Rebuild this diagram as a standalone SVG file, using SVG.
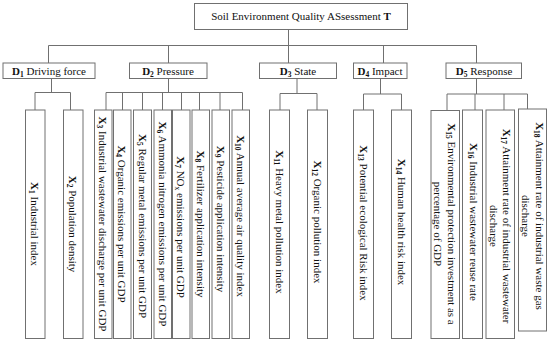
<svg xmlns="http://www.w3.org/2000/svg" width="550" height="344" viewBox="0 0 550 344">
<style>
  .box { fill: #ffffff; stroke: #707070; stroke-width: 1; }
  .conn { fill: none; stroke: #707070; stroke-width: 1; }
  text { font-family: "Liberation Serif", "Times New Roman", serif; font-size: 11px; fill: #111; }
  .b { font-weight: bold; }
  .sub { font-size: 7.5px; font-weight: bold; }
  .subn { font-size: 7.5px; }
</style>
<rect width="550" height="344" fill="#ffffff"/>
<g id="connectors" class="conn">
  <path d="M288.5 29.5 V45.5 M48.5 45.5 H476.5 M48.5 45.5 V63 M168.5 45.5 V63 M288.5 45.5 V63 M383.5 45.5 V63 M476.5 45.5 V63"/>
  <path d="M51.5 78.5 V92.5 M35 92.5 H70.5 M35 92.5 V110 M70.5 92.5 V110"/>
  <path d="M168.5 78.5 V92.5 M106 92.5 H242.5 M106 92.5 V110 M122.5 92.5 V110 M142.5 92.5 V110 M162.5 92.5 V110 M181.5 92.5 V110 M199.5 92.5 V110 M220 92.5 V110 M242.5 92.5 V110"/>
  <path d="M297 78.5 V93.5 M280 93.5 H317 M280 93.5 V110 M317 93.5 V110"/>
  <path d="M380.5 78.5 V94 M363.5 94 H401.5 M363.5 94 V110 M401.5 94 V110"/>
  <path d="M476.5 78.5 V94 M447 94 H527.5 M447 94 V110 M475 94 V110 M504 94 V110 M527.5 94 V109"/>
</g>
<g id="T">
  <rect class="box" x="194.5" y="3.5" width="213" height="26"/>
  <text x="301" y="20" text-anchor="middle">Soil Environment Quality ASsessment <tspan class="b">T</tspan></text>
</g>
<g id="D1">
  <rect class="box" x="3" y="63" width="92" height="15.5"/>
  <text x="49" y="74.5" text-anchor="middle"><tspan class="b">D</tspan><tspan class="sub" dy="2">1</tspan><tspan dy="-2"> Driving force</tspan></text>
</g>
<g id="D2">
  <rect class="box" x="129.5" y="63" width="77.5" height="15.5"/>
  <text x="168" y="74.5" text-anchor="middle"><tspan class="b">D</tspan><tspan class="sub" dy="2">2</tspan><tspan dy="-2"> Pressure</tspan></text>
</g>
<g id="D3">
  <rect class="box" x="259.5" y="63" width="77" height="15.5"/>
  <text x="298" y="74.5" text-anchor="middle"><tspan class="b">D</tspan><tspan class="sub" dy="2">3</tspan><tspan dy="-2"> State</tspan></text>
</g>
<g id="D4">
  <rect class="box" x="353.5" y="63" width="53.5" height="15.5"/>
  <text x="380" y="74.5" text-anchor="middle"><tspan class="b">D</tspan><tspan class="sub" dy="2">4</tspan><tspan dy="-2"> Impact</tspan></text>
</g>
<g id="D5">
  <rect class="box" x="446" y="63" width="75.5" height="15.5"/>
  <text x="484" y="74.5" text-anchor="middle"><tspan class="b">D</tspan><tspan class="sub" dy="2">5</tspan><tspan dy="-2"> Response</tspan></text>
</g>
<g id="X1">
  <rect class="box" x="25.5" y="110" width="19.5" height="228.5"/>
  <text transform="translate(35.3,224) rotate(90)" y="4" text-anchor="middle"><tspan class="b">X</tspan><tspan class="sub" dy="2">1</tspan><tspan dy="-2"> Industrial index</tspan></text>
</g>
<g id="X2">
  <rect class="box" x="63.5" y="110" width="19.5" height="228.5"/>
  <text transform="translate(73.3,224) rotate(90)" y="4" text-anchor="middle"><tspan class="b">X</tspan><tspan class="sub" dy="2">2</tspan><tspan dy="-2"> Population density</tspan></text>
</g>
<g id="X3">
  <rect class="box" x="94.5" y="110" width="17.5" height="228.5"/>
  <text transform="translate(103.3,224) rotate(90)" y="4" text-anchor="middle"><tspan class="b">X</tspan><tspan class="sub" dy="2">3</tspan><tspan dy="-2"> Industrial wastewater discharge per unit GDP</tspan></text>
</g>
<g id="X4">
  <rect class="box" x="113.5" y="110" width="17.5" height="228.5"/>
  <text transform="translate(122.3,224) rotate(90)" y="4" text-anchor="middle"><tspan class="b">X</tspan><tspan class="sub" dy="2">4</tspan><tspan dy="-2"> Organic emissions per unit GDP</tspan></text>
</g>
<g id="X5">
  <rect class="box" x="133.5" y="110" width="18" height="228.5"/>
  <text transform="translate(142.5,226) rotate(90)" y="4" text-anchor="middle"><tspan class="b">X</tspan><tspan class="sub" dy="2">5</tspan><tspan dy="-2"> Regular metal emissions per unit GDP</tspan></text>
</g>
<g id="X6">
  <rect class="box" x="154" y="110" width="17.5" height="228.5"/>
  <text transform="translate(162.8,224) rotate(90)" y="4" text-anchor="middle"><tspan class="b">X</tspan><tspan class="sub" dy="2">6</tspan><tspan dy="-2"> Ammonia nitrogen emissions per unit GDP</tspan></text>
</g>
<g id="X7">
  <rect class="box" x="172.5" y="110" width="17.5" height="228.5"/>
  <text transform="translate(181.3,227) rotate(90)" y="4" text-anchor="middle"><tspan class="b">X</tspan><tspan class="sub" dy="2">7</tspan><tspan dy="-2"> NO</tspan><tspan class="subn" dy="2">x</tspan><tspan dy="-2"> emissions per unit GDP</tspan></text>
</g>
<g id="X8">
  <rect class="box" x="192" y="110" width="17.5" height="228.5"/>
  <text transform="translate(200.8,224) rotate(90)" y="4" text-anchor="middle"><tspan class="b">X</tspan><tspan class="sub" dy="2">8</tspan><tspan dy="-2"> Fertilizer application intensity</tspan></text>
</g>
<g id="X9">
  <rect class="box" x="212" y="110" width="17.5" height="228.5"/>
  <text transform="translate(220.8,219) rotate(90)" y="4" text-anchor="middle"><tspan class="b">X</tspan><tspan class="sub" dy="2">9</tspan><tspan dy="-2"> Pesticide application intensity</tspan></text>
</g>
<g id="X10">
  <rect class="box" x="232" y="110" width="17.5" height="228.5"/>
  <text transform="translate(240.8,216) rotate(90)" y="4" text-anchor="middle"><tspan class="b">X</tspan><tspan class="sub" dy="2">10</tspan><tspan dy="-2"> Annual average air quality index</tspan></text>
</g>
<g id="X11">
  <rect class="box" x="269.5" y="110" width="20" height="228.5"/>
  <text transform="translate(279.5,222) rotate(90)" y="4" text-anchor="middle"><tspan class="b">X</tspan><tspan class="sub" dy="2">11</tspan><tspan dy="-2"> Heavy metal pollution index</tspan></text>
</g>
<g id="X12">
  <rect class="box" x="307.5" y="110" width="20" height="228.5"/>
  <text transform="translate(317.5,222) rotate(90)" y="4" text-anchor="middle"><tspan class="b">X</tspan><tspan class="sub" dy="2">12</tspan><tspan dy="-2"> Organic pollution index</tspan></text>
</g>
<g id="X13">
  <rect class="box" x="353.5" y="110" width="20" height="228.5"/>
  <text transform="translate(363.5,223) rotate(90)" y="4" text-anchor="middle"><tspan class="b">X</tspan><tspan class="sub" dy="2">13</tspan><tspan dy="-2"> Potential ecological Risk index</tspan></text>
</g>
<g id="X14">
  <rect class="box" x="391.5" y="110" width="20" height="228.5"/>
  <text transform="translate(401.5,222) rotate(90)" y="4" text-anchor="middle"><tspan class="b">X</tspan><tspan class="sub" dy="2">14</tspan><tspan dy="-2"> Human health risk index</tspan></text>
</g>
<g id="X15">
  <rect class="box" x="431" y="110.5" width="28.5" height="228"/>
  <text transform="translate(445.2,224) rotate(90)" text-anchor="middle"><tspan x="0" y="-3"><tspan class="b">X</tspan><tspan class="sub" dy="2">15</tspan><tspan dy="-2"> Environmental protection investment as a</tspan></tspan><tspan x="0" y="11">percentage of GDP</tspan></text>
</g>
<g id="X16">
  <rect class="box" x="462.5" y="110" width="20" height="228.5"/>
  <text transform="translate(473.5,222) rotate(90)" y="4" text-anchor="middle"><tspan class="b">X</tspan><tspan class="sub" dy="2">16</tspan><tspan dy="-2"> Industrial wastewater reuse rate</tspan></text>
</g>
<g id="X17">
  <rect class="box" x="486" y="110" width="28.5" height="228.5"/>
  <text transform="translate(500.3,226) rotate(90)" text-anchor="middle"><tspan x="0" y="-3"><tspan class="b">X</tspan><tspan class="sub" dy="2">17</tspan><tspan dy="-2"> Attainment rate of industrial wastewater</tspan></tspan><tspan x="0" y="10.5">discharge</tspan></text>
</g>
<g id="X18">
  <rect class="box" x="518.5" y="109" width="28" height="222"/>
  <text transform="translate(532.5,216) rotate(90)" text-anchor="middle"><tspan x="0" y="-3.5"><tspan class="b">X</tspan><tspan class="sub" dy="2">18</tspan><tspan dy="-2"> Attainment rate of industrial waste gas</tspan></tspan><tspan x="0" y="10.5">discharge</tspan></text>
</g>
</svg>
